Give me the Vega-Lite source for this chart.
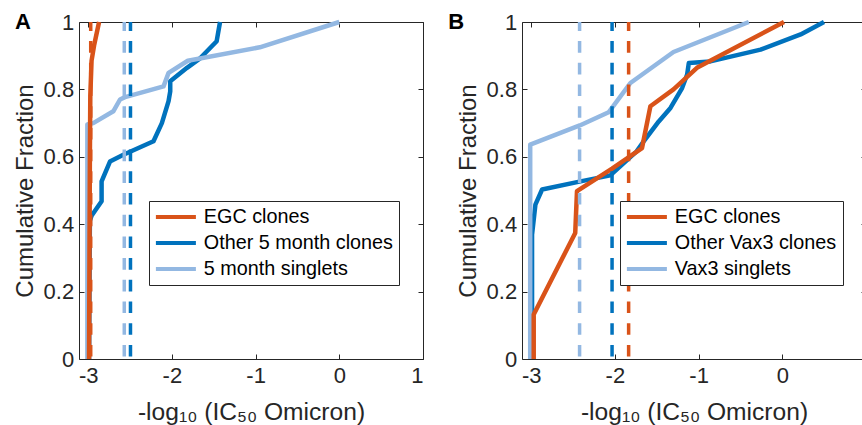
{
  "$schema": "https://vega.github.io/schema/vega-lite/v6.json",
  "background": "white",
  "padding": {"left": 12, "top": 10, "right": 0, "bottom": 0},
  "bounds": "flush",
  "spacing": 99,
  "config": {
    "font": "Liberation Sans",
    "view": {"stroke": "#262626", "strokeWidth": 1},
    "axis": {
      "domain": false, "grid": false,
      "tickColor": "#262626", "tickSize": -5, "tickWidth": 1,
      "labelFont": "Liberation Sans", "labelFontSize": 22, "labelColor": "#262626",
      "titleFont": "Liberation Sans", "titleFontSize": 24, "titleFontWeight": "normal", "titleColor": "#262626"
    }
  },
  "datasets": {
    "curves": [
      {"panel": "A", "series": "Other 5 month clones", "k": 0, "x": -2.99, "y": 0},
      {"panel": "A", "series": "Other 5 month clones", "k": 1, "x": -2.98, "y": 0.41},
      {"panel": "A", "series": "Other 5 month clones", "k": 2, "x": -2.96, "y": 0.425},
      {"panel": "A", "series": "Other 5 month clones", "k": 3, "x": -2.84, "y": 0.468},
      {"panel": "A", "series": "Other 5 month clones", "k": 4, "x": -2.84, "y": 0.527},
      {"panel": "A", "series": "Other 5 month clones", "k": 5, "x": -2.74, "y": 0.586},
      {"panel": "A", "series": "Other 5 month clones", "k": 6, "x": -2.58, "y": 0.606},
      {"panel": "A", "series": "Other 5 month clones", "k": 7, "x": -2.22, "y": 0.646},
      {"panel": "A", "series": "Other 5 month clones", "k": 8, "x": -2.12, "y": 0.70},
      {"panel": "A", "series": "Other 5 month clones", "k": 9, "x": -2.04, "y": 0.765},
      {"panel": "A", "series": "Other 5 month clones", "k": 10, "x": -2.02, "y": 0.794},
      {"panel": "A", "series": "Other 5 month clones", "k": 11, "x": -2.02, "y": 0.824},
      {"panel": "A", "series": "Other 5 month clones", "k": 12, "x": -1.82, "y": 0.864},
      {"panel": "A", "series": "Other 5 month clones", "k": 13, "x": -1.66, "y": 0.893},
      {"panel": "A", "series": "Other 5 month clones", "k": 14, "x": -1.465, "y": 0.943},
      {"panel": "A", "series": "Other 5 month clones", "k": 15, "x": -1.425, "y": 1.0},
      {"panel": "A", "series": "5 month singlets", "k": 0, "x": -3.01, "y": 0},
      {"panel": "A", "series": "5 month singlets", "k": 1, "x": -3.01, "y": 0.696},
      {"panel": "A", "series": "5 month singlets", "k": 2, "x": -2.94, "y": 0.70},
      {"panel": "A", "series": "5 month singlets", "k": 3, "x": -2.70, "y": 0.735},
      {"panel": "A", "series": "5 month singlets", "k": 4, "x": -2.62, "y": 0.77},
      {"panel": "A", "series": "5 month singlets", "k": 5, "x": -2.56, "y": 0.777},
      {"panel": "A", "series": "5 month singlets", "k": 6, "x": -2.10, "y": 0.809},
      {"panel": "A", "series": "5 month singlets", "k": 7, "x": -2.04, "y": 0.849},
      {"panel": "A", "series": "5 month singlets", "k": 8, "x": -1.81, "y": 0.885},
      {"panel": "A", "series": "5 month singlets", "k": 9, "x": -0.95, "y": 0.925},
      {"panel": "A", "series": "5 month singlets", "k": 10, "x": 0.0, "y": 1.0},
      {"panel": "A", "series": "EGC clones", "k": 0, "x": -2.99, "y": 0},
      {"panel": "A", "series": "EGC clones", "k": 1, "x": -2.98, "y": 0.6},
      {"panel": "A", "series": "EGC clones", "k": 2, "x": -2.975, "y": 0.78},
      {"panel": "A", "series": "EGC clones", "k": 3, "x": -2.96, "y": 0.885},
      {"panel": "A", "series": "EGC clones", "k": 4, "x": -2.93, "y": 0.93},
      {"panel": "A", "series": "EGC clones", "k": 5, "x": -2.87, "y": 1.0},
      {"panel": "B", "series": "Other Vax3 clones", "k": 0, "x": -2.99, "y": 0},
      {"panel": "B", "series": "Other Vax3 clones", "k": 1, "x": -2.99, "y": 0.369},
      {"panel": "B", "series": "Other Vax3 clones", "k": 2, "x": -2.95, "y": 0.458},
      {"panel": "B", "series": "Other Vax3 clones", "k": 3, "x": -2.87, "y": 0.503},
      {"panel": "B", "series": "Other Vax3 clones", "k": 4, "x": -2.41, "y": 0.527},
      {"panel": "B", "series": "Other Vax3 clones", "k": 5, "x": -2.055, "y": 0.545},
      {"panel": "B", "series": "Other Vax3 clones", "k": 6, "x": -1.74, "y": 0.616},
      {"panel": "B", "series": "Other Vax3 clones", "k": 7, "x": -1.656, "y": 0.646},
      {"panel": "B", "series": "Other Vax3 clones", "k": 8, "x": -1.476, "y": 0.705},
      {"panel": "B", "series": "Other Vax3 clones", "k": 9, "x": -1.336, "y": 0.745},
      {"panel": "B", "series": "Other Vax3 clones", "k": 10, "x": -1.197, "y": 0.804},
      {"panel": "B", "series": "Other Vax3 clones", "k": 11, "x": -1.137, "y": 0.844},
      {"panel": "B", "series": "Other Vax3 clones", "k": 12, "x": -1.117, "y": 0.878},
      {"panel": "B", "series": "Other Vax3 clones", "k": 13, "x": -0.86, "y": 0.883},
      {"panel": "B", "series": "Other Vax3 clones", "k": 14, "x": -0.26, "y": 0.918},
      {"panel": "B", "series": "Other Vax3 clones", "k": 15, "x": 0.219, "y": 0.963},
      {"panel": "B", "series": "Other Vax3 clones", "k": 16, "x": 0.498, "y": 1.0},
      {"panel": "B", "series": "Vax3 singlets", "k": 0, "x": -3.012, "y": 0},
      {"panel": "B", "series": "Vax3 singlets", "k": 1, "x": -3.012, "y": 0.636},
      {"panel": "B", "series": "Vax3 singlets", "k": 2, "x": -2.42, "y": 0.693},
      {"panel": "B", "series": "Vax3 singlets", "k": 3, "x": -2.075, "y": 0.732},
      {"panel": "B", "series": "Vax3 singlets", "k": 4, "x": -1.815, "y": 0.819},
      {"panel": "B", "series": "Vax3 singlets", "k": 5, "x": -1.30, "y": 0.911},
      {"panel": "B", "series": "Vax3 singlets", "k": 6, "x": -0.40, "y": 1.0},
      {"panel": "B", "series": "EGC clones", "k": 0, "x": -2.97, "y": 0},
      {"panel": "B", "series": "EGC clones", "k": 1, "x": -2.97, "y": 0.132},
      {"panel": "B", "series": "EGC clones", "k": 2, "x": -2.474, "y": 0.374},
      {"panel": "B", "series": "EGC clones", "k": 3, "x": -2.453, "y": 0.498},
      {"panel": "B", "series": "EGC clones", "k": 4, "x": -2.034, "y": 0.565},
      {"panel": "B", "series": "EGC clones", "k": 5, "x": -1.676, "y": 0.626},
      {"panel": "B", "series": "EGC clones", "k": 6, "x": -1.576, "y": 0.75},
      {"panel": "B", "series": "EGC clones", "k": 7, "x": -1.30, "y": 0.80},
      {"panel": "B", "series": "EGC clones", "k": 8, "x": -1.02, "y": 0.864},
      {"panel": "B", "series": "EGC clones", "k": 9, "x": 0.02, "y": 1.0}
    ],
    "medians": [
      {"panel": "A", "series": "EGC clones", "x": -2.97},
      {"panel": "A", "series": "5 month singlets", "x": -2.569},
      {"panel": "A", "series": "Other 5 month clones", "x": -2.495},
      {"panel": "B", "series": "Vax3 singlets", "x": -2.422},
      {"panel": "B", "series": "Other Vax3 clones", "x": -2.034},
      {"panel": "B", "series": "EGC clones", "x": -1.836}
    ]
  },
  "hconcat": [
    {
      "width": 344, "height": 337,
      "layer": [
        {
          "data": {"name": "curves"},
          "transform": [{"filter": "datum.panel === 'A'"}],
          "mark": {"type": "line", "strokeWidth": 4.5, "strokeJoin": "round"},
          "encoding": {
            "x": {"field": "x", "type": "quantitative", "scale": {"domain": [-3.11, 1], "nice": false, "zero": false},
                  "axis": {"orient": "bottom", "values": [-3, -2, -1, 0, 1], "labelExpr": "datum.value + ''", "labelPadding": 11.5, "titlePadding": 14, "titleFontSize": 24.6, "title": "-log₁₀ (IC₅₀ Omicron)"}},
            "y": {"field": "y", "type": "quantitative", "scale": {"domain": [0, 1], "nice": false},
                  "axis": {"orient": "left", "values": [0, 0.2, 0.4, 0.6, 0.8, 1], "labelExpr": "datum.value + ''", "labelPadding": 10.3, "titlePadding": 6, "title": "Cumulative Fraction"}},
            "color": {"field": "series", "type": "nominal",
                      "scale": {"domain": ["EGC clones", "Other 5 month clones", "5 month singlets"], "range": ["#D95319", "#0072BD", "#93B8E2"]},
                      "legend": {"orient": "none", "legendX": 70, "legendY": 179, "title": null, "symbolType": "M-4,0H4", "symbolSize": 100, "symbolStrokeWidth": 4, "symbolOffset": 11, "labelFont": "Liberation Sans", "labelFontSize": 19.8, "labelLimit": 400, "labelColor": "#000000", "strokeColor": "#262626", "fillColor": "white", "padding": 6, "rowPadding": 5, "labelOffset": 18}},
            "order": {"field": "k", "type": "quantitative"}
          }
        },
        {
          "data": {"name": "medians"},
          "transform": [{"filter": "datum.panel === 'A'"}],
          "mark": {"type": "rule", "strokeWidth": 3.5, "strokeDash": [11.6, 10.1], "strokeDashOffset": 19.2},
          "encoding": {
            "x": {"field": "x", "type": "quantitative", "axis": {"orient": "top", "values": [-3, -2, -1, 0, 1], "labels": false, "title": null}},
            "y": {"datum": 0, "type": "quantitative", "axis": {"orient": "right", "values": [0, 0.2, 0.4, 0.6, 0.8, 1], "labels": false, "title": null}},
            "y2": {"datum": 1},
            "color": {"field": "series", "type": "nominal", "legend": null}
          }
        },
        {
          "data": {"values": [{"label": "A", "lx": -3.875, "ly": 0.978}]},
          "mark": {"type": "text", "fontSize": 22, "fontWeight": "bold", "align": "left", "baseline": "alphabetic", "color": "#000000", "font": "Liberation Sans"},
          "encoding": {
            "x": {"field": "lx", "type": "quantitative", "axis": null},
            "y": {"field": "ly", "type": "quantitative", "axis": null},
            "text": {"field": "label"}
          }
        }
      ],
      "resolve": {"axis": {"x": "independent", "y": "independent"}}
    },
    {
      "width": 344, "height": 337,
      "layer": [
        {
          "data": {"name": "curves"},
          "transform": [{"filter": "datum.panel === 'B'"}],
          "mark": {"type": "line", "strokeWidth": 4.5, "strokeJoin": "round"},
          "encoding": {
            "x": {"field": "x", "type": "quantitative", "scale": {"domain": [-3.11, 1], "nice": false, "zero": false},
                  "axis": {"orient": "bottom", "values": [-3, -2, -1, 0], "labelExpr": "datum.value + ''", "labelPadding": 11.5, "titlePadding": 14, "titleFontSize": 24.6, "title": "-log₁₀ (IC₅₀ Omicron)"}},
            "y": {"field": "y", "type": "quantitative", "scale": {"domain": [0, 1], "nice": false},
                  "axis": {"orient": "left", "values": [0, 0.2, 0.4, 0.6, 0.8, 1], "labelExpr": "datum.value + ''", "labelPadding": 10.3, "titlePadding": 6, "title": "Cumulative Fraction"}},
            "color": {"field": "series", "type": "nominal",
                      "scale": {"domain": ["EGC clones", "Other Vax3 clones", "Vax3 singlets"], "range": ["#D95319", "#0072BD", "#93B8E2"]},
                      "legend": {"orient": "none", "legendX": 98, "legendY": 179, "title": null, "symbolType": "M-4,0H4", "symbolSize": 100, "symbolStrokeWidth": 4, "symbolOffset": 11, "labelFont": "Liberation Sans", "labelFontSize": 19.8, "labelLimit": 400, "labelColor": "#000000", "strokeColor": "#262626", "fillColor": "white", "padding": 6, "rowPadding": 5, "labelOffset": 18}},
            "order": {"field": "k", "type": "quantitative"}
          }
        },
        {
          "data": {"name": "medians"},
          "transform": [{"filter": "datum.panel === 'B'"}],
          "mark": {"type": "rule", "strokeWidth": 3.5, "strokeDash": [11.6, 10.1], "strokeDashOffset": 19.2},
          "encoding": {
            "x": {"field": "x", "type": "quantitative", "axis": {"orient": "top", "values": [-3, -2, -1, 0, 1], "labels": false, "title": null}},
            "y": {"datum": 0, "type": "quantitative", "axis": {"orient": "right", "values": [0, 0.2, 0.4, 0.6, 0.8, 1], "labels": false, "title": null}},
            "y2": {"datum": 1},
            "color": {"field": "series", "type": "nominal", "legend": null}
          }
        },
        {
          "data": {"values": [{"label": "B", "lx": -3.99, "ly": 0.978}]},
          "mark": {"type": "text", "fontSize": 22, "fontWeight": "bold", "align": "left", "baseline": "alphabetic", "color": "#000000", "font": "Liberation Sans"},
          "encoding": {
            "x": {"field": "lx", "type": "quantitative", "axis": null},
            "y": {"field": "ly", "type": "quantitative", "axis": null},
            "text": {"field": "label"}
          }
        }
      ],
      "resolve": {"axis": {"x": "independent", "y": "independent"}}
    }
  ],
  "resolve": {"scale": {"color": "independent", "x": "independent", "y": "independent"}, "legend": {"color": "independent"}}
}
